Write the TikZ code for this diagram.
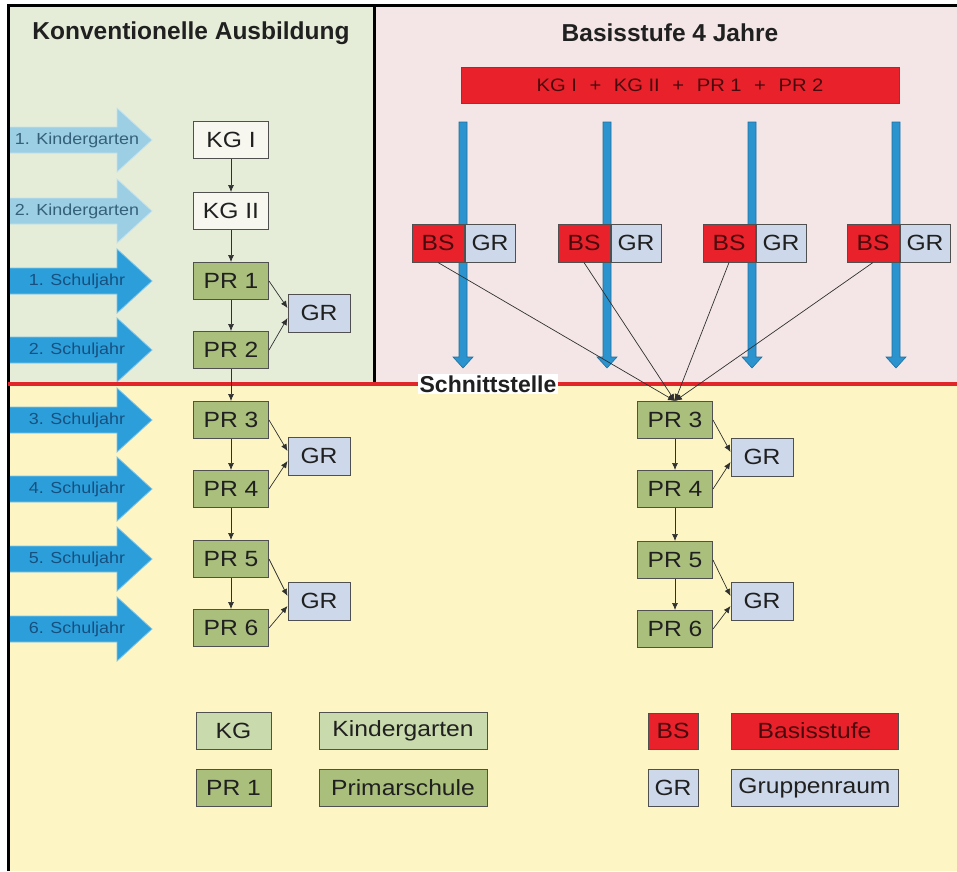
\documentclass[tikz,border=0pt]{standalone}
\usepackage{fontspec}
\setmainfont{Liberation Sans}
\newfontfamily\breit{Liberation Sans}[FakeStretch=1.12]
\usetikzlibrary{positioning,arrows.meta}

\definecolor{gruenhg}{HTML}{E5EDD8}
\definecolor{rosahg}{HTML}{F4E6E6}
\definecolor{gelbhg}{HTML}{FDF6C4}
\definecolor{kgpfeil}{HTML}{9CCFE3}
\definecolor{kgtext}{HTML}{35607A}
\definecolor{sjpfeil}{HTML}{2C9FDB}
\definecolor{sjtext}{HTML}{17507F}
\definecolor{blaupfeil}{HTML}{2B93CE}
\definecolor{blaurand}{HTML}{1F6F9F}
\definecolor{kgweiss}{HTML}{F7F7F0}
\definecolor{kghell}{HTML}{C9DAAC}
\definecolor{prgruen}{HTML}{AABF7C}
\definecolor{grblau}{HTML}{CDD9EA}
\definecolor{bsrot}{HTML}{E8212B}
\definecolor{bstext}{HTML}{4A0A0D}
\definecolor{rahmen}{HTML}{505050}
\definecolor{linie}{HTML}{303030}
\definecolor{schrift}{HTML}{202020}
\definecolor{rotlinie}{HTML}{E0252B}

\tikzset{
  kasten/.style={draw=rahmen, line width=1pt, minimum width=75pt, minimum height=37pt,
    inner sep=0pt, font=\breit\fontsize{22}{22}\selectfont, text=schrift},
  kg/.style={kasten, fill=kgweiss},
  pr/.style={kasten, fill=prgruen},
  gr/.style={kasten, fill=grblau, minimum width=62pt, minimum height=38pt},
  bs/.style={kasten, fill=bsrot, text=bstext, minimum width=52pt, minimum height=38pt},
  gb/.style={kasten, fill=grblau, minimum width=50pt, minimum height=38pt},
  titel/.style={font=\bfseries\fontsize{24.5}{24.5}\selectfont, text=schrift},
  pfeil/.style={-{Latex[length=7pt,width=6pt]}, line width=0.7pt, draw=linie},
}

\begin{document}
\begin{tikzpicture}[x=1pt,y=-1pt]
    \useasboundingbox (0,0) rectangle (957,871);

    % backgrounds
    \fill[gruenhg] (8,5) rectangle (374,384);
    \fill[rosahg] (374,5) rectangle (957,384);
    \fill[gelbhg] (8,384) rectangle (957,871);

    % titles
    \node[titel] (tkonv) at (191,33) {Konventionelle Ausbildung};
    \node[titel] (tbasis) at (670,33) {Basisstufe 4 Jahre};

    % year arrows on the left
    \foreach \y/\txt/\farbe/\tf [count=\i] in {140/1. Kindergarten/kgpfeil/kgtext,
        211/2. Kindergarten/kgpfeil/kgtext, 281/1. Schuljahr/sjpfeil/sjtext,
        350/2. Schuljahr/sjpfeil/sjtext, 420/3. Schuljahr/sjpfeil/sjtext,
        489/4. Schuljahr/sjpfeil/sjtext, 559/5. Schuljahr/sjpfeil/sjtext,
        629/6. Schuljahr/sjpfeil/sjtext}
    {
        \draw[draw=\farbe!60!white, fill=\farbe, line width=0.8pt]
            (8,\y-13) -- (117,\y-13) -- (117,\y-32) -- (152,\y)
            -- (117,\y+32) -- (117,\y+13) -- (8,\y+13) -- cycle;
        \node[text=\tf, font=\breit\fontsize{16}{16}\selectfont] (j\i) at (77,\y) {\txt};
    }

    % blue arrows of the Basisstufe
    \foreach \x in {463,607,752,896}
        \draw[draw=blaurand, fill=blaupfeil, line width=0.6pt]
            (\x-4,122) -- (\x+4,122) -- (\x+4,357) -- (\x+10,357) -- (\x,368)
            -- (\x-10,357) -- (\x-4,357) -- (\x-4,122) -- cycle;

    % frame, divider, interface line
    \draw[line width=3pt] (8,871) -- (8,5) -- (957,5);
    \draw[line width=3pt] (374,5) -- (374,384);
    \draw[rotlinie, line width=4pt] (8,384) -- (957,384);

    % conventional column
    \node[kg] (kg1) at (231,140) {KG I};
    \node[kg] (kg2) at (231,211) {KG II};
    \node[pr] (l1) at (231,281) {PR 1};
    \node[pr] (l2) at (231,350) {PR 2};
    \node[pr] (l3) at (231,420) {PR 3};
    \node[pr] (l4) at (231,489) {PR 4};
    \node[pr] (l5) at (231,559) {PR 5};
    \node[pr] (l6) at (231,628) {PR 6};
    \node[gr] (lg1) at (319,313) {GR};
    \node[gr] (lg2) at (319,456) {GR};
    \node[gr] (lg3) at (319,601) {GR};

    \draw[pfeil] (kg1.south) -- (kg2.north);
    \draw[pfeil] (kg2.south) -- (l1.north);
    \draw[pfeil] (l1.south) -- (l2.north);
    \draw[pfeil] (l2.south) -- (l3.north);
    \draw[pfeil] (l3.south) -- (l4.north);
    \draw[pfeil] (l4.south) -- (l5.north);
    \draw[pfeil] (l5.south) -- (l6.north);
    \draw[pfeil] (l1.east) -- ([yshift=5pt]lg1.west);
    \draw[pfeil] (l2.east) -- ([yshift=-5pt]lg1.west);
    \draw[pfeil] (l3.east) -- ([yshift=5pt]lg2.west);
    \draw[pfeil] (l4.east) -- ([yshift=-5pt]lg2.west);
    \draw[pfeil] (l5.east) -- ([yshift=5pt]lg3.west);
    \draw[pfeil] (l6.east) -- ([yshift=-5pt]lg3.west);

    % Basisstufe
    \node[kasten, fill=bsrot, text=bstext, minimum width=438pt, minimum height=36pt,
        font=\breit\fontsize{18}{18}\selectfont] (bst) at (680,85)
        {KG I\hspace{0.7em}+\hspace{0.7em}KG II\hspace{0.7em}+\hspace{0.7em}PR 1\hspace{0.7em}+\hspace{0.7em}PR 2};
    \node[bs] (bs1) at (438,243) {BS};
    \node[gb, right=0pt of bs1] (g1) {GR};
    \node[bs] (bs2) at (584,243) {BS};
    \node[gb, right=0pt of bs2] (g2) {GR};
    \node[bs] (bs3) at (729,243) {BS};
    \node[gb, right=0pt of bs3] (g3) {GR};
    \node[bs] (bs4) at (873,243) {BS};
    \node[gb, right=0pt of bs4] (g4) {GR};

    % right column
    \node[pr] (r3) at (675,420) {PR 3};
    \node[pr] (r4) at (675,489) {PR 4};
    \node[pr] (r5) at (675,560) {PR 5};
    \node[pr] (r6) at (675,629) {PR 6};
    \node[gr] (rg1) at (762,457) {GR};
    \node[gr] (rg2) at (762,601) {GR};

    \foreach \b in {bs1,bs2,bs3,bs4}
        \draw[pfeil] (\b.south) -- (r3.north);
    \draw[pfeil] (r3.south) -- (r4.north);
    \draw[pfeil] (r4.south) -- (r5.north);
    \draw[pfeil] (r5.south) -- (r6.north);
    \draw[pfeil] (r3.east) -- ([yshift=5pt]rg1.west);
    \draw[pfeil] (r4.east) -- ([yshift=-5pt]rg1.west);
    \draw[pfeil] (r5.east) -- ([yshift=5pt]rg2.west);
    \draw[pfeil] (r6.east) -- ([yshift=-5pt]rg2.west);

    \node[fill=white, inner sep=1.5pt, font=\bfseries\fontsize{23}{23}\selectfont, text=schrift]
        (schnitt) at (488,384) {Schnittstelle};

    % legend
    \node[kasten, fill=kghell] (legkg) at (233.5,731) {KG};
    \node[kasten, fill=kghell, minimum width=168pt] (legkgt) at (403,731) {Kindergarten};
    \node[pr] (legpr) at (233.5,788) {PR 1};
    \node[pr, minimum width=168pt] (legprt) at (403,788) {Primarschule};
    \node[bs, minimum width=50pt, minimum height=36pt] (legbs) at (673,731) {BS};
    \node[bs, minimum width=167pt, minimum height=36pt] (legbst) at (814.5,731) {Basisstufe};
    \node[gb, minimum height=37pt] (leggr) at (673,788) {GR};
    \node[gb, minimum width=167pt, minimum height=37pt] (leggrt) at (814.5,788) {Gruppenraum};
\end{tikzpicture}
\end{document}
